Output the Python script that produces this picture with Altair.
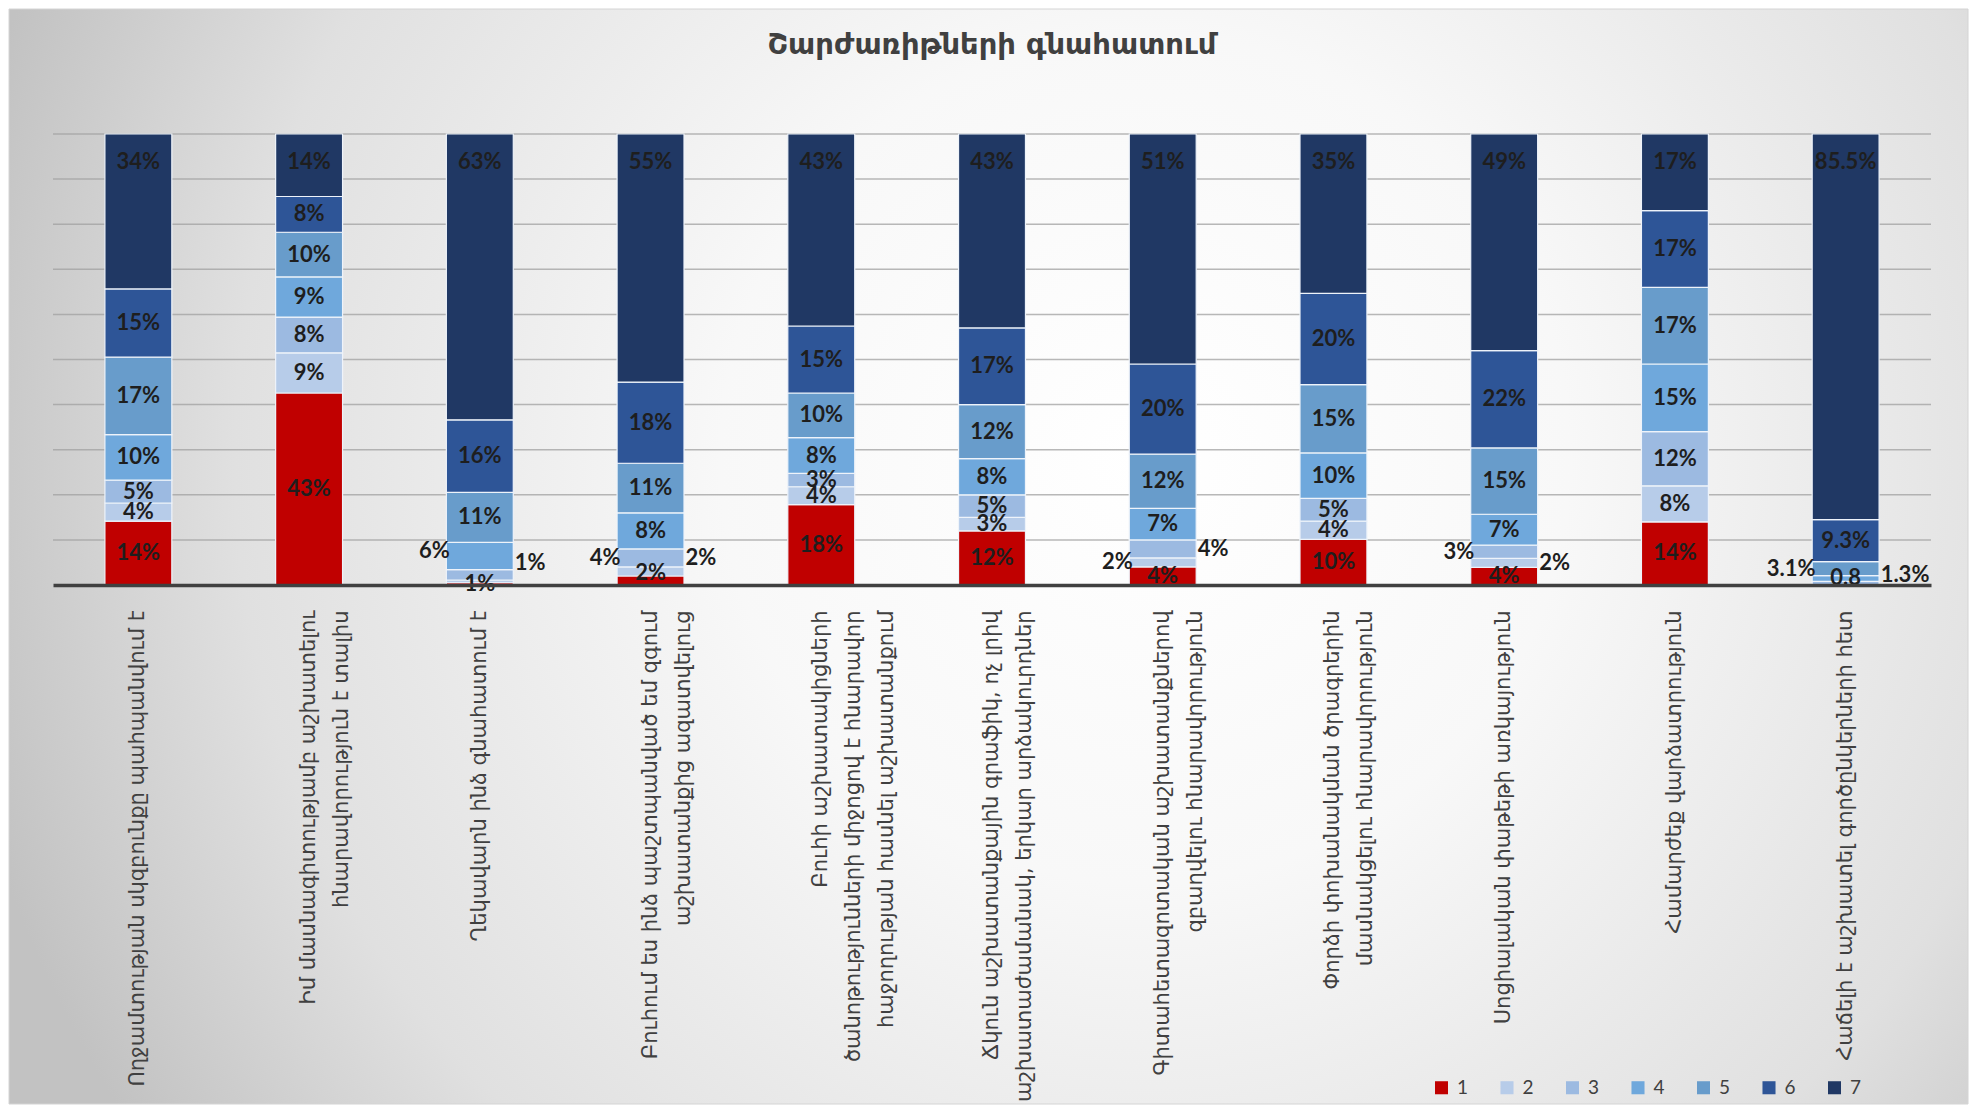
import altair as alt
import pandas as pd

title_text = "Շարժառիթների գնահատում"

categories = [
    "Ողջամտության սկզբունքը պահպանվում է",
    "Իմ մասնագիտությամբ աշխատելու\nհնարավորություն է տալիս",
    "Ղեկավարն ինձ գնահատում է",
    "Բուհում ես ինձ պաշտպանված եմ զգում\nաշխատանքից ազատվելուց",
    "Բուհի աշխատակիցների\nծանոթությունների միջոցով է հնարավոր\nհաջողության հասնել աշխատանքում",
    "Ճկուն աշխատանքային գրաֆիկ, ոչ լրիվ\nաշխատաժամանակ, երկար արձակուրդներ",
    "Գիտահետազոտական աշխատանքներով\nզբաղվելու հնարավորություն",
    "Փորձի փոխանակման ծրագրերին\nմասնակցելու հնարավորություն",
    "Սոցիալական փաթեթի առկայություն",
    "Համարժեք վարձատրություն",
    "Հաճելի է աշխատել գործընկերների հետ",
]

series_names = ["1", "2", "3", "4", "5", "6", "7"]
series_colors = ["#C00000", "#B7CCE9", "#9CBAE1", "#6FA8DC", "#689CCB", "#2E5597", "#203864"]

s1 = [14, 43, 0.5, 2, 18, 12, 4, 10, 4, 14, 0]
s2 = [4, 9, 0.6, 2, 4, 3, 2, 4, 2, 8, 0]
s3 = [5, 8, 2.3, 4, 3, 5, 4, 5, 3, 12, 0.8]
s4 = [10, 9, 6, 8, 8, 8, 7, 10, 7, 15, 1.3]
s5 = [17, 10, 11, 11, 10, 12, 12, 15, 15, 17, 3.1]
s6 = [15, 8, 16, 18, 15, 17, 20, 20, 22, 17, 9.3]
s7 = [34, 14, 63, 55, 43, 43, 51, 35, 49, 17, 85.5]
values = [s1, s2, s3, s4, s5, s6, s7]

# categories whose labels carry one decimal
decimal_categories = [10]
# label text shown without the percent sign in the original
label_overrides = {(10, "3"): "0.8"}
# labels moved beside the bar: (category index, series) -> (side, vertical nudge in points)
label_place = {
    (2, "4"): ("L", 1), (2, "2"): ("R", 4), (2, "1"): ("C", 0), (2, "3"): ("H", 0),
    (3, "3"): ("L", 0), (3, "2"): ("R", 3), (3, "1"): ("C", 1.7),
    (6, "3"): ("R", 0), (6, "2"): ("L", 0), (6, "1"): ("C", 0),
    (8, "3"): ("L", 0), (8, "2"): ("R", 0), (8, "1"): ("C", 0),
    (10, "5"): ("L", 0), (10, "3"): ("C", 1.1), (10, "4"): ("R", 0.8),
}
grid_values = [0.1, 0.2, 0.3, 0.4, 0.5, 0.6, 0.7, 0.8, 0.9, 1.0]

rows = []
for ci, cat in enumerate(categories):
    for si, s in enumerate(series_names):
        v = values[si][ci]
        if ci in decimal_categories:
            lab = f"{v:.1f}%"
        else:
            lab = f"{int(v + 0.5)}%"
        lab = label_overrides.get((ci, s), lab)
        side, nudge = label_place.get((ci, s), ("T" if s == "7" else "C", 0))
        if v == 0:
            side = "H"
        rows.append({"category": cat, "series": s, "order": si, "value": v,
                     "label": lab, "side": side, "nudge": nudge})
df = pd.DataFrame(rows)

W, H = 1878, 451
PAD = {"left": 45, "top": 126, "right": 38, "bottom": 520}

yscale = alt.Scale(domain=[0, 1], nice=False, zero=True)
X = alt.X("category:N", sort=categories,
          scale=alt.Scale(domain=categories, paddingInner=0.608, paddingOuter=0.304),
          axis=alt.Axis(title=None, labelAngle=-90, labelExpr="split(datum.label, '\\n')",
                        labelFontSize=21, labelFont="DejaVu Sans", labelColor="#404040",
                        labelLineHeight=33, labelPadding=25, ticks=False, tickSize=0,
                        domainColor="#404040", domainWidth=3.5, labelLimit=800,
                        labelOverlap=False, zindex=1, grid=False))

bg_fill = alt.Gradient(
    gradient="radial",
    stops=[alt.GradientStop(color="#ffffff", offset=0),
           alt.GradientStop(color="#f8f8f8", offset=0.35),
           alt.GradientStop(color="#e0e0e0", offset=0.75),
           alt.GradientStop(color="#c2c2c2", offset=1)],
    x1=0.58, y1=0.45, x2=0.58, y2=0.45, r1=0, r2=0.62)

bg = alt.Chart(pd.DataFrame({"k": [0]})).mark_rect(fill=bg_fill, stroke="#d4d4d4", strokeWidth=1).encode(
    x=alt.value(-PAD["left"] + 1), x2=alt.value(W + PAD["right"] - 1),
    y=alt.value(-PAD["top"] + 1), y2=alt.value(H + PAD["bottom"] - 1))

title = alt.Chart(pd.DataFrame({"t": [title_text]})).mark_text(
    font="DejaVu Sans", fontWeight="bold", fontSize=29, color="#404040",
    align="center", baseline="middle").encode(
    text="t:N", x=alt.value(W / 2), y=alt.value(-89))

grid = alt.Chart(pd.DataFrame({"g": grid_values})).mark_rule(color="#a0a0a0", strokeWidth=1.5, opacity=0.75).encode(
    y=alt.Y("g:Q", scale=yscale, axis=None), x=alt.value(0), x2=alt.value(W))

base = alt.Chart(df).transform_stack(
    stack="value", groupby=["category"], as_=["y0", "y1"], offset="normalize",
    sort=[alt.SortField("order", order="ascending")]
).transform_calculate(mid="(datum.y0 + datum.y1) / 2 + datum.nudge / 100")

bars = base.mark_bar(stroke="#eef3fa", strokeWidth=1.2).encode(
    x=X,
    y=alt.Y("y0:Q", scale=yscale, axis=None),
    y2="y1",
    color=alt.Color("series:N", scale=alt.Scale(domain=series_names, range=series_colors),
                    legend=alt.Legend(orient="none", legendX=1379, legendY=944, direction="horizontal",
                                      title=None, symbolType="square", symbolSize=170,
                                      symbolStrokeWidth=0, labelFontSize=19, labelFont="Lato",
                                      labelColor="#404040", columnPadding=28.5, labelOffset=6,
                                      padding=0, zindex=1)))

txt_style = dict(font="Lato", fontWeight="bold", fontSize=22, color="#1e1e1e", baseline="middle")

top_txt = base.transform_filter("datum.side == 'T'").mark_text(dy=28, align="center", **txt_style).encode(
    x=X, y=alt.Y("y1:Q", scale=yscale, axis=None), text="label:N")
mid_txt = base.transform_filter("datum.side == 'C'").mark_text(align="center", **txt_style).encode(
    x=X, y=alt.Y("mid:Q", scale=yscale, axis=None), text="label:N")
left_txt = base.transform_filter("datum.side == 'L'").mark_text(align="right", dx=-30, **txt_style).encode(
    x=X, y=alt.Y("mid:Q", scale=yscale, axis=None), text="label:N")
right_txt = base.transform_filter("datum.side == 'R'").mark_text(align="left", dx=35, **txt_style).encode(
    x=X, y=alt.Y("mid:Q", scale=yscale, axis=None), text="label:N")

chart = alt.layer(bg, title, grid, bars, top_txt, mid_txt, left_txt, right_txt).properties(
    width=W, height=H,
    padding=PAD,
    autosize=alt.AutoSizeParams(type="none"),
).configure_view(stroke=None).configure(background="#ffffff")

chart.save("out.html", embed_options={"renderer": "svg", "actions": False})
